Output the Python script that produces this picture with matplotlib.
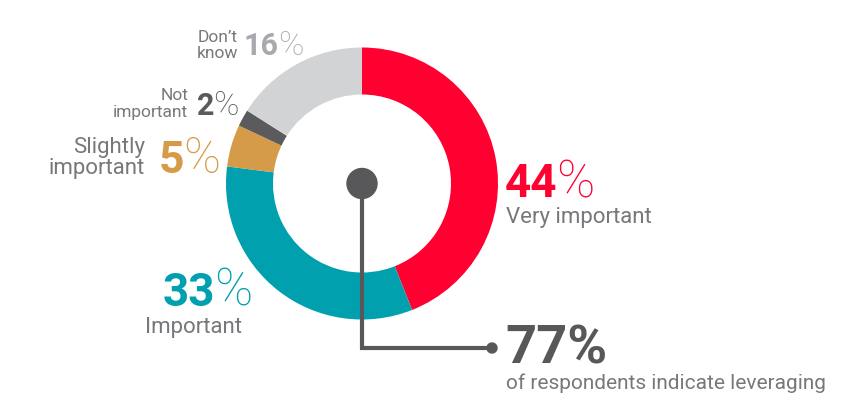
import matplotlib.pyplot as plt
from matplotlib.patches import Circle

# Share of respondents by importance rating (clockwise from 12 o'clock).
categories = ["Very important", "Important", "Slightly important",
              "Not important", "Don't know"]
shares = [44, 33, 5, 2, 16]
colors = ["#FF0030", "#00A0AE", "#D59B48", "#5B5B5D", "#D2D3D5"]
headline_value = 77
headline_text = "of respondents indicate leveraging"

W, H = 860, 394
FONT = "Roboto"
LABEL_GREY = "#77787B"
DARK = "#58585A"

fig = plt.figure(figsize=(W / 100, H / 100), dpi=100)
ax = fig.add_axes([0, 0, 1, 1])


def Y(py):
    # pixel row (from top) -> data y
    return H - py


cx, cy, r_out, ring = 362, Y(183.5), 136, 47
ax.pie(shares, colors=colors, startangle=90, counterclock=False,
       radius=r_out, center=(cx, cy), frame=True,
       wedgeprops=dict(width=ring, linewidth=0))
ax.set_xlim(0, W)
ax.set_ylim(0, H)
ax.set_aspect("equal")
ax.axis("off")

# connector from the centre dot to the headline figure
ax.plot([cx, cx, 492], [cy, Y(348), Y(348)], color=DARK, lw=3.0,
        solid_joinstyle="miter", solid_capstyle="butt", zorder=3)
ax.add_patch(Circle((cx, cy), 15, color=DARK, zorder=4))
ax.add_patch(Circle((492, Y(348)), 5, color=DARK, zorder=4))


def pct(xsplit, py, value, color, size):
    ax.text(xsplit, Y(py), f"{value}", ha="right", va="baseline",
            fontsize=size, fontweight="bold", color=color, family=FONT)
    ax.text(xsplit - 1, Y(py), "%", ha="left", va="baseline",
            fontsize=size * 1.12, fontweight="light", color=color,
            family=FONT)


# Very important
pct(557, 197, shares[0], colors[0], 33)
ax.text(506, Y(223), categories[0], ha="left", va="baseline",
        fontsize=16, color=LABEL_GREY, family=FONT)

# Important
pct(215, 306, shares[1], colors[1], 33)
ax.text(145, Y(333), categories[1], ha="left", va="baseline",
        fontsize=16, color=LABEL_GREY, family=FONT)

# Slightly important
pct(184, 173, shares[2], colors[2], 32)
ax.text(145, Y(153), "Slightly", ha="right", va="baseline",
        fontsize=16, color=LABEL_GREY, family=FONT)
ax.text(145, Y(174), "important", ha="right", va="baseline",
        fontsize=16, color=LABEL_GREY, family=FONT)

# Not important
pct(214, 115, shares[3], colors[3], 22)
ax.text(188, Y(100), "Not", ha="right", va="baseline",
        fontsize=12.5, color=LABEL_GREY, family=FONT)
ax.text(188, Y(117), "important", ha="right", va="baseline",
        fontsize=12.5, color=LABEL_GREY, family=FONT)

# Don't know
pct(279, 55, shares[4], "#A7A9AC", 22)
ax.text(238, Y(42), "Don\u2019t", ha="right", va="baseline",
        fontsize=12.5, color=LABEL_GREY, family=FONT)
ax.text(238, Y(58), "know", ha="right", va="baseline",
        fontsize=12.5, color=LABEL_GREY, family=FONT)

# headline
ax.text(505, Y(363), f"{headline_value}%", ha="left", va="baseline",
        fontsize=39, fontweight="bold", color=DARK, family=FONT)
ax.text(506, Y(389), headline_text, ha="left", va="baseline",
        fontsize=15, color=LABEL_GREY, family=FONT)

fig.savefig("out.png", dpi=100, facecolor="white")
